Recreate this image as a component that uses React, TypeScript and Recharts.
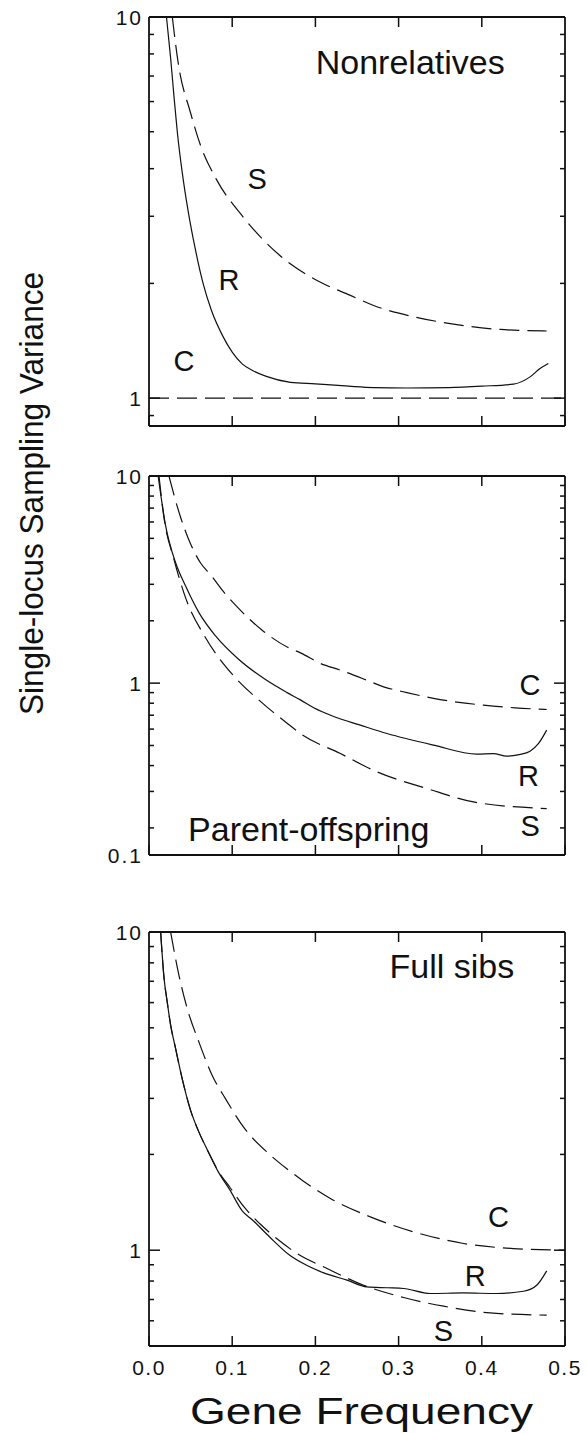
import React from 'react';
import { LineChart, Line, XAxis, YAxis, ReferenceDot } from 'recharts';

type Pt = { x: number; v: number };

const FONT = '"Liberation Sans", Arial, Helvetica, sans-serif';
const INK = '#111';

// gene frequency ticks (shared by all three panels)
const freqTicks = [0, 0.1, 0.2, 0.3, 0.4, 0.5];

// --- Nonrelatives ---
const nonrelS: Pt[] = [
    { x: 0.028, v: 10 }, { x: 0.035, v: 7.6 }, { x: 0.05, v: 5.6 }, { x: 0.062, v: 4.6 },
    { x: 0.081, v: 3.75 }, { x: 0.113, v: 2.99 }, { x: 0.157, v: 2.37 }, { x: 0.205, v: 2.02 },
    { x: 0.242, v: 1.86 }, { x: 0.27, v: 1.75 }, { x: 0.318, v: 1.635 }, { x: 0.366, v: 1.564 },
    { x: 0.422, v: 1.514 }, { x: 0.478, v: 1.5 },
];
const nonrelR: Pt[] = [
    { x: 0.021, v: 10 }, { x: 0.026, v: 7.8 }, { x: 0.03, v: 6.2 }, { x: 0.034, v: 5.0 },
    { x: 0.04, v: 3.9 }, { x: 0.047, v: 3.1 }, { x: 0.055, v: 2.5 }, { x: 0.065, v: 2.0 },
    { x: 0.075, v: 1.7 }, { x: 0.089, v: 1.45 }, { x: 0.1, v: 1.32 }, { x: 0.112, v: 1.23 },
    { x: 0.125, v: 1.18 }, { x: 0.141, v: 1.14 }, { x: 0.17, v: 1.1 }, { x: 0.2, v: 1.09 },
    { x: 0.24, v: 1.075 }, { x: 0.27, v: 1.066 }, { x: 0.31, v: 1.063 }, { x: 0.36, v: 1.066 },
    { x: 0.4, v: 1.075 }, { x: 0.438, v: 1.088 }, { x: 0.458, v: 1.137 }, { x: 0.47, v: 1.196 },
    { x: 0.48, v: 1.233 },
];
const nonrelC: Pt[] = [{ x: 0, v: 1 }, { x: 0.5, v: 1 }];

// --- Parent-offspring ---
const parentC: Pt[] = [
    { x: 0.024, v: 10 }, { x: 0.037, v: 6.5 }, { x: 0.05, v: 4.7 }, { x: 0.062, v: 3.8 },
    { x: 0.075, v: 3.3 }, { x: 0.09, v: 2.75 }, { x: 0.104, v: 2.38 }, { x: 0.12, v: 2.05 },
    { x: 0.136, v: 1.8 }, { x: 0.168, v: 1.48 }, { x: 0.182, v: 1.4 }, { x: 0.206, v: 1.245 },
    { x: 0.23, v: 1.155 }, { x: 0.26, v: 1.04 }, { x: 0.282, v: 0.96 }, { x: 0.31, v: 0.9 },
    { x: 0.342, v: 0.844 }, { x: 0.37, v: 0.81 }, { x: 0.402, v: 0.783 }, { x: 0.44, v: 0.76 },
    { x: 0.478, v: 0.746 },
];
const parentR: Pt[] = [
    { x: 0.011, v: 10 }, { x: 0.02, v: 5.74 }, { x: 0.032, v: 3.81 }, { x: 0.044, v: 2.94 },
    { x: 0.06, v: 2.19 }, { x: 0.08, v: 1.69 }, { x: 0.108, v: 1.3 }, { x: 0.14, v: 1.04 },
    { x: 0.166, v: 0.9 }, { x: 0.182, v: 0.83 }, { x: 0.198, v: 0.76 }, { x: 0.222, v: 0.69 },
    { x: 0.254, v: 0.627 }, { x: 0.286, v: 0.571 }, { x: 0.342, v: 0.502 }, { x: 0.394, v: 0.454 },
    { x: 0.414, v: 0.457 }, { x: 0.43, v: 0.444 }, { x: 0.445, v: 0.452 }, { x: 0.458, v: 0.469 },
    { x: 0.468, v: 0.51 }, { x: 0.478, v: 0.593 },
];
const parentS: Pt[] = [
    { x: 0.012, v: 10 }, { x: 0.018, v: 6.3 }, { x: 0.03, v: 3.96 }, { x: 0.044, v: 2.58 },
    { x: 0.068, v: 1.656 }, { x: 0.102, v: 1.081 }, { x: 0.136, v: 0.803 }, { x: 0.168, v: 0.631 },
    { x: 0.182, v: 0.571 }, { x: 0.23, v: 0.457 }, { x: 0.274, v: 0.373 }, { x: 0.334, v: 0.31 },
    { x: 0.39, v: 0.267 }, { x: 0.478, v: 0.248 },
];

// --- Full sibs ---
const sibsC: Pt[] = [
    { x: 0.026, v: 10 }, { x: 0.036, v: 7.31 }, { x: 0.046, v: 5.74 }, { x: 0.06, v: 4.51 },
    { x: 0.076, v: 3.54 }, { x: 0.092, v: 2.99 }, { x: 0.115, v: 2.41 }, { x: 0.144, v: 2.01 },
    { x: 0.166, v: 1.8 }, { x: 0.184, v: 1.66 }, { x: 0.218, v: 1.454 }, { x: 0.266, v: 1.273 },
    { x: 0.318, v: 1.142 }, { x: 0.378, v: 1.05 }, { x: 0.438, v: 1.012 }, { x: 0.5, v: 1.0 },
];
const sibsR: Pt[] = [
    { x: 0.014, v: 10 }, { x: 0.018, v: 7.2 }, { x: 0.022, v: 6.0 }, { x: 0.026, v: 5.1 },
    { x: 0.032, v: 4.3 }, { x: 0.04, v: 3.45 }, { x: 0.05, v: 2.75 }, { x: 0.06, v: 2.35 },
    { x: 0.07, v: 2.07 }, { x: 0.084, v: 1.75 }, { x: 0.097, v: 1.55 }, { x: 0.112, v: 1.33 },
    { x: 0.125, v: 1.24 }, { x: 0.145, v: 1.1 }, { x: 0.17, v: 0.96 }, { x: 0.19, v: 0.895 },
    { x: 0.21, v: 0.849 }, { x: 0.238, v: 0.805 }, { x: 0.262, v: 0.767 }, { x: 0.286, v: 0.762 },
    { x: 0.306, v: 0.758 }, { x: 0.338, v: 0.731 }, { x: 0.378, v: 0.734 }, { x: 0.418, v: 0.731 },
    { x: 0.45, v: 0.743 }, { x: 0.466, v: 0.776 }, { x: 0.478, v: 0.861 },
];
const sibsS: Pt[] = [
    { x: 0.014, v: 10 }, { x: 0.018, v: 7.2 }, { x: 0.022, v: 6.0 }, { x: 0.026, v: 5.1 },
    { x: 0.032, v: 4.3 }, { x: 0.04, v: 3.45 }, { x: 0.05, v: 2.75 }, { x: 0.06, v: 2.35 },
    { x: 0.07, v: 2.07 }, { x: 0.084, v: 1.76 }, { x: 0.097, v: 1.58 }, { x: 0.115, v: 1.36 },
    { x: 0.133, v: 1.213 }, { x: 0.155, v: 1.08 }, { x: 0.178, v: 0.976 }, { x: 0.214, v: 0.876 },
    { x: 0.258, v: 0.776 }, { x: 0.306, v: 0.71 }, { x: 0.354, v: 0.667 }, { x: 0.41, v: 0.635 },
    { x: 0.478, v: 0.625 },
];

// log axes: lower bound of each panel, and its tick values
const nonrelMin = 0.845;
const parentMin = 0.148;
const sibsMin = 0.5;
const nonrelTicks = [0.9, 1, 2, 3, 4, 5, 6, 7, 8, 9, 10];
const parentTicks = [parentMin, 0.2, 0.3, 0.4, 0.5, 0.6, 0.7, 0.8, 0.9, 1, 2, 3, 4, 5, 6, 7, 8, 9, 10];
const sibsTicks = [0.6, 0.7, 0.8, 0.9, 1, 2, 3, 4, 5, 6, 7, 8, 9, 10];
const nonrelLabels: Record<string, string> = { '10': '10', '1': '1' };
const parentLabels: Record<string, string> = { '10': '10', '1': '1', [String(parentMin)]: '0.1' };
const sibsLabels: Record<string, string> = { '10': '10', '1': '1' };

type Note = { x: number; v: number; text: string; size: number };

const nonrelNotes: Note[] = [
    { x: 0.314, v: 7.62, text: 'Nonrelatives', size: 34 },
    { x: 0.13, v: 3.76, text: 'S', size: 29 },
    { x: 0.096, v: 2.04, text: 'R', size: 29 },
    { x: 0.042, v: 1.256, text: 'C', size: 29 },
];
const parentNotes: Note[] = [
    { x: 0.192, v: 0.197, text: 'Parent-offspring', size: 34 },
    { x: 0.458, v: 0.978, text: 'C', size: 29 },
    { x: 0.456, v: 0.359, text: 'R', size: 29 },
    { x: 0.458, v: 0.206, text: 'S', size: 29 },
];
const sibsNotes: Note[] = [
    { x: 0.364, v: 7.82, text: 'Full sibs', size: 34 },
    { x: 0.42, v: 1.273, text: 'C', size: 29 },
    { x: 0.392, v: 0.834, text: 'R', size: 29 },
    { x: 0.354, v: 0.56, text: 'S', size: 29 },
];

const isMajor = (v: number) => v === 1;
const TICK_FONT = 21;

// ticks point into the plot; Recharts hands us the axis position as x/y
const LeftTick = (p: any) => {
    const v = p.payload.value;
    const lab = p.labels[String(v)];
    return (
        <g>
            <line x1={p.x} y1={p.y} x2={p.x + (isMajor(v) ? 11 : 5)} y2={p.y} stroke={INK} strokeWidth={1.5} />
            {lab && (
                <text x={p.x - 6} y={p.y} dy="0.36em" textAnchor="end" fontSize={TICK_FONT} letterSpacing={2}
                    fontFamily={FONT} fill={INK}>{lab}</text>
            )}
        </g>
    );
};

const RightTick = (p: any) => {
    const v = p.payload.value;
    return <line x1={p.x} y1={p.y} x2={p.x - (isMajor(v) ? 11 : 5)} y2={p.y} stroke={INK} strokeWidth={1.5} />;
};

const TopTick = (p: any) => <line x1={p.x} y1={p.y} x2={p.x} y2={p.y + 10} stroke={INK} strokeWidth={1.5} />;

const BottomTick = (p: any) => (
    <g>
        <line x1={p.x} y1={p.y} x2={p.x} y2={p.y - 10} stroke={INK} strokeWidth={1.5} />
        {p.labelled && (
            <text x={p.x} y={p.y + 29} textAnchor="middle" fontSize={TICK_FONT} letterSpacing={1.5}
                fontFamily={FONT} fill={INK}>{p.payload.value.toFixed(1)}</text>
        )}
    </g>
);

type Series = { data: Pt[]; dashed: boolean };

interface PanelProps {
    plotTop: number;
    plotH: number;
    yMin: number;
    yTicks: number[];
    yLabels: Record<string, string>;
    series: Series[];
    notes: Note[];
    freqLabels?: boolean;
}

const Panel: React.FC<PanelProps> = ({ plotTop, plotH, yMin, yTicks, yLabels, series, notes, freqLabels }) => {
    const bottomH = freqLabels ? 40 : 1;
    const height = 17 + plotH + bottomH + 16;
    const axisLine = { stroke: INK, strokeWidth: 1.8 };
    return (
        <div style={{ position: 'absolute', left: 0, top: plotTop - 17 }}>
            <LineChart width={587} height={height} margin={{ top: 16, right: 21, bottom: 16, left: 0 }}>
                <XAxis xAxisId="b" dataKey="x" type="number" domain={[0, 0.5]} ticks={freqTicks} interval={0}
                    allowDataOverflow height={bottomH} tickSize={0} tickMargin={0} tickLine={false}
                    axisLine={axisLine} tick={(p: any) => <BottomTick {...p} labelled={freqLabels} />} />
                <XAxis xAxisId="t" orientation="top" dataKey="x" type="number" domain={[0, 0.5]} ticks={[0.1, 0.2, 0.3, 0.4]}
                    interval={0} allowDataOverflow height={1} tickSize={0} tickMargin={0} tickLine={false}
                    axisLine={axisLine} tick={(p: any) => <TopTick {...p} />} />
                <YAxis yAxisId="l" type="number" scale="log" domain={[yMin, 10]} ticks={yTicks} interval={0}
                    allowDataOverflow width={149} tickSize={0} tickMargin={0} tickLine={false}
                    axisLine={axisLine} tick={(p: any) => <LeftTick {...p} labels={yLabels} />} />
                <YAxis yAxisId="r" orientation="right" type="number" scale="log" domain={[yMin, 10]} ticks={yTicks}
                    interval={0} allowDataOverflow width={1} tickSize={0} tickMargin={0} tickLine={false}
                    axisLine={axisLine} tick={(p: any) => <RightTick {...p} />} />
                {series.map((s, i) => (
                    <Line key={i} data={s.data} dataKey="v" xAxisId="b" yAxisId="l" type="monotone"
                        stroke={INK} strokeWidth={1.2} strokeDasharray={s.dashed ? '20 8' : undefined}
                        dot={false} activeDot={false} isAnimationActive={false} />
                ))}
                {notes.map((n, i) => (
                    <ReferenceDot key={`n${i}`} x={n.x} y={n.v} r={0} xAxisId="b" yAxisId="l"
                        fill="none" stroke="none"
                        label={{ value: n.text, position: 'center', fontSize: n.size, fill: INK, fontFamily: FONT }} />
                ))}
            </LineChart>
        </div>
    );
};

export default function App() {
    return (
        <div style={{ position: 'absolute', left: 0, top: 0, width: 587, height: 1433, background: '#fff' }}>
            <Panel plotTop={17} plotH={409} yMin={nonrelMin} yTicks={nonrelTicks} yLabels={nonrelLabels}
                series={[{ data: nonrelS, dashed: true }, { data: nonrelR, dashed: false }, { data: nonrelC, dashed: true }]}
                notes={nonrelNotes} />
            <Panel plotTop={476} plotH={379} yMin={parentMin} yTicks={parentTicks} yLabels={parentLabels}
                series={[{ data: parentC, dashed: true }, { data: parentR, dashed: false }, { data: parentS, dashed: true }]}
                notes={parentNotes} />
            <Panel plotTop={932} plotH={414} yMin={sibsMin} yTicks={sibsTicks} yLabels={sibsLabels}
                series={[{ data: sibsC, dashed: true }, { data: sibsR, dashed: false }, { data: sibsS, dashed: true }]}
                notes={sibsNotes} freqLabels />
            <svg width={587} height={1433} style={{ position: 'absolute', left: 0, top: 0, pointerEvents: 'none' }}>
                <text x={43} y={493.5} transform="rotate(-90 43 493.5)" textAnchor="middle" fontSize={33}
                    textLength={443} lengthAdjust="spacingAndGlyphs" fontFamily={FONT} fill={INK}>
                    Single-locus Sampling Variance
                </text>
                <text x={361.5} y={1424} textAnchor="middle" fontSize={36} textLength={343}
                    lengthAdjust="spacingAndGlyphs" fontFamily={FONT} fill={INK}>
                    Gene Frequency
                </text>
            </svg>
        </div>
    );
}
